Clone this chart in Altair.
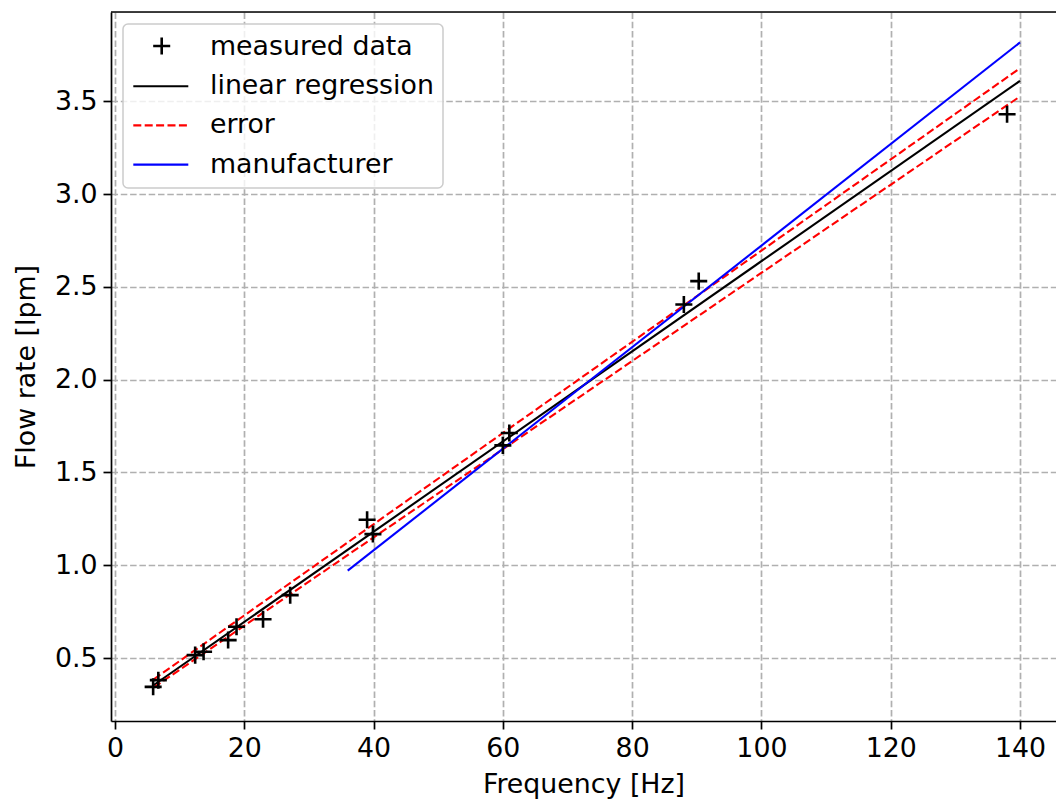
import altair as alt
import pandas as pd

# measured data
freq = [5.9, 6.7, 12.4, 13.7, 17.5, 18.8, 22.9, 27.1, 39.0, 39.9, 60.0, 61.0, 88.0, 90.3, 138.0]
flow = [0.345, 0.381, 0.516, 0.534, 0.597, 0.669, 0.709, 0.839, 1.245, 1.168, 1.646, 1.713, 2.405, 2.531, 3.430]

# line endpoints
reg_x = [6.0, 140.0]
reg_y = [0.355, 3.610]
err_hi_y = [0.386, 3.678]
err_lo_y = [0.342, 3.526]
man_x = [36.0, 140.0]
man_y = [0.971, 3.817]

legend_labels = ["measured data", "linear regression", "error", "manufacturer"]

x_ticks = [0, 20, 40, 60, 80, 100, 120, 140]
y_ticks = [0.5, 1.0, 1.5, 2.0, 2.5, 3.0, 3.5]

W, H = 945, 709
FONT = "DejaVu Sans"
FS = 26.8

xs = alt.Scale(domain=[-0.62, 145.57], nice=False, zero=False)
ys = alt.Scale(domain=[0.161, 3.981], nice=False, zero=False)

x_axis = alt.Axis(values=x_ticks, title="Frequency [Hz]", grid=True, gridColor="#b0b0b0",
                  gridDash=[6.5, 2.8], gridWidth=1.7, domainColor="black", domainWidth=1.7,
                  tickColor="black", tickWidth=1.7, tickSize=8, labelFontSize=FS,
                  labelFont=FONT, labelColor="black", titleFont=FONT, titleFontSize=FS,
                  titleFontWeight="normal", titleColor="black", labelPadding=6, titlePadding=10,
                  format="d")
y_axis = alt.Axis(values=y_ticks, title="Flow rate [lpm]", grid=True, gridColor="#b0b0b0",
                  gridDash=[6.5, 2.8], gridWidth=1.7, domainColor="black", domainWidth=1.7,
                  tickColor="black", tickWidth=1.7, tickSize=8, labelFontSize=FS,
                  labelFont=FONT, labelColor="black", titleFont=FONT, titleFontSize=FS,
                  titleFontWeight="normal", titleColor="black", labelPadding=6, titlePadding=14,
                  format=".1f")

pts_df = pd.DataFrame({"f": freq, "q": flow})
reg_df = pd.DataFrame({"f": reg_x, "q": reg_y})
hi_df = pd.DataFrame({"f": reg_x, "q": err_hi_y})
lo_df = pd.DataFrame({"f": reg_x, "q": err_lo_y})
man_df = pd.DataFrame({"f": man_x, "q": man_y})

CROSS = "M-1,0L1,0M0,-1L0,1"

base_axes = alt.Chart(pts_df).mark_point(opacity=0).encode(
    x=alt.X("f:Q", scale=xs, axis=x_axis),
    y=alt.Y("q:Q", scale=ys, axis=y_axis),
)

reg = alt.Chart(reg_df).mark_line(color="black", strokeWidth=2.1).encode(
    x=alt.X("f:Q", scale=xs), y=alt.Y("q:Q", scale=ys))
hi = alt.Chart(hi_df).mark_line(color="red", strokeWidth=2.1, strokeDash=[8, 3.4]).encode(
    x=alt.X("f:Q", scale=xs), y=alt.Y("q:Q", scale=ys))
lo = alt.Chart(lo_df).mark_line(color="red", strokeWidth=2.1, strokeDash=[8, 3.4]).encode(
    x=alt.X("f:Q", scale=xs), y=alt.Y("q:Q", scale=ys))
man = alt.Chart(man_df).mark_line(color="#0000ff", strokeWidth=2.1).encode(
    x=alt.X("f:Q", scale=xs), y=alt.Y("q:Q", scale=ys))
pts = alt.Chart(pts_df).mark_point(shape=CROSS, size=290, color="black", strokeWidth=2.6,
                                   filled=False, opacity=1).encode(
    x=alt.X("f:Q", scale=xs), y=alt.Y("q:Q", scale=ys))

one = pd.DataFrame({"a": [0]})
top_spine = alt.Chart(one).mark_rule(color="black", strokeWidth=1.7).encode(
    x=alt.value(0), x2=alt.value(W), y=alt.value(0))

# legend
leg_box = alt.Chart(one).mark_rect(fill="white", fillOpacity=0.8, stroke="#cccccc",
                                   strokeWidth=1.5, cornerRadius=5).encode(
    x=alt.value(12), x2=alt.value(332), y=alt.value(12), y2=alt.value(176))
leg_df = pd.DataFrame({"label": legend_labels, "i": list(range(len(legend_labels)))})
leg_text = alt.Chart(leg_df).transform_calculate(
    ypix="43 + datum.i * 39.2").mark_text(
    align="left", baseline="alphabetic", font=FONT, fontSize=FS, color="black").encode(
    x=alt.value(99), y=alt.Y("ypix:Q", scale=None), text="label:N")
leg_cross = alt.Chart(leg_df).transform_filter("datum.i == 0").transform_calculate(
    ypix="34").mark_point(shape=CROSS, size=290, color="black", strokeWidth=2.6,
                          opacity=1).encode(
    x=alt.value(50.7), y=alt.Y("ypix:Q", scale=None))
leg_reg = alt.Chart(leg_df).transform_filter("datum.i == 1").transform_calculate(
    ypix="35 + datum.i * 39.2").mark_rule(color="black", strokeWidth=2.1).encode(
    x=alt.value(22.3), x2=alt.value(77.3), y=alt.Y("ypix:Q", scale=None))
leg_err = alt.Chart(leg_df).transform_filter("datum.i == 2").transform_calculate(
    ypix="35 + datum.i * 39.2").mark_rule(color="red", strokeWidth=2.1, strokeDash=[8, 3.4]).encode(
    x=alt.value(22.3), x2=alt.value(77.3), y=alt.Y("ypix:Q", scale=None))
leg_man = alt.Chart(leg_df).transform_filter("datum.i == 3").transform_calculate(
    ypix="35 + datum.i * 39.2").mark_rule(color="#0000ff", strokeWidth=2.1).encode(
    x=alt.value(22.3), x2=alt.value(77.3), y=alt.Y("ypix:Q", scale=None))

chart = alt.layer(
    base_axes, reg, hi, lo, man, pts, top_spine,
    leg_box, leg_text, leg_cross, leg_reg, leg_err, leg_man
).properties(
    width=W, height=H,
    autosize=alt.AutoSizeParams(type="none"),
    padding={"left": 111, "top": 12, "right": 0, "bottom": 81},
).configure_view(stroke=None).configure(background="white")

chart.save("out.html", embed_options={"renderer": "svg", "actions": False})
